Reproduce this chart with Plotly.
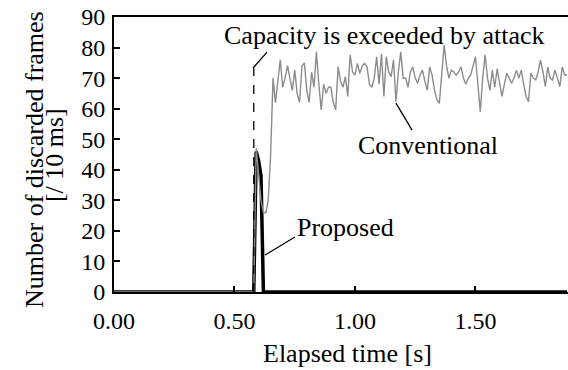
import plotly.graph_objects as go

# Conventional: zero until 0.58 s, then sampled every 10 ms from 0.59 s to 1.88 s
conv_start_time = [0.00, 0.58]
conv_start_vals = [0, 0]
conv_vals = [
    47, 38, 30, 26, 26, 30, 45,
    70, 62, 69, 76, 67, 70, 74, 70, 66, 72.6, 65, 62, 74, 75, 66, 62, 72, 67, 78.6, 68,
    59.6, 68, 65, 67, 67, 62, 59.6, 73.7, 69, 67, 70.5, 64, 77.6, 72, 71, 74.8, 71.6, 74,
    74.8, 73.7, 68, 67, 70, 77, 68, 78, 64, 77, 72, 70.5, 76, 62.3, 72, 78.6, 69.9, 70,
    67, 72, 73.7, 70, 68.3, 71, 72.6, 69, 66, 73.7, 71, 66, 63, 61.7, 70, 80.8, 74, 69.9,
    72.6, 72, 71, 72, 73.7, 70, 68, 70, 71, 74, 77, 68, 59, 70, 77.6, 70, 66, 72.6, 67,
    73, 69, 64, 68, 71.6, 70, 68.3, 70, 72.6, 70, 72.6, 68, 64, 62.3, 71.6, 70, 69.4, 72,
    75.9, 72, 67.2, 73.7, 70, 69.4, 72.6, 70, 67.2, 73.7, 71, 71,
]
conv_time = conv_start_time + [round(0.59 + 0.01 * i, 2) for i in range(len(conv_vals))]
conv_all = conv_start_vals + conv_vals

prop_time = [0.00, 0.58, 0.59, 0.60, 0.61, 0.62, 1.88]
prop_vals = [0, 0, 46, 43, 38, 0, 0]

attack_time = 0.58
x_ticks = [0.0, 0.5, 1.0, 1.5]
x_labels = ["0.00", "0.50", "1.00", "1.50"]
y_ticks = [0, 10, 20, 30, 40, 50, 60, 70, 80, 90]

FONT = "Liberation Serif"
TXT = dict(family=FONT, size=26, color="black")

fig = go.Figure()
fig.add_trace(go.Scatter(x=prop_time, y=prop_vals, mode="lines",
                         line=dict(color="black", width=3.5), name="Proposed"))
fig.add_trace(go.Scatter(x=conv_time, y=conv_all, mode="lines",
                         line=dict(color="#8c8c8c", width=1.4), name="Conventional"))

# dashed line marking the attack start
fig.add_shape(type="line", xref="x", yref="y", x0=attack_time, x1=attack_time,
              y0=0, y1=73.3, line=dict(color="black", width=1.3, dash="dash"))
# leader lines
fig.add_shape(type="line", xref="x", yref="y", x0=0.577, y0=73.3, x1=0.635, y1=78.5,
              line=dict(color="black", width=1.3))
fig.add_shape(type="line", xref="x", yref="y", x0=1.17, y0=61.8, x1=1.237, y1=53,
              line=dict(color="black", width=1.3))
fig.add_shape(type="line", xref="x", yref="y", x0=0.627, y0=12.1, x1=0.751, y1=18,
              line=dict(color="black", width=1.3))

def note(text, xp, yp, angle=0):
    fig.add_annotation(x=xp, y=yp, xref="paper", yref="paper", text=text,
                       showarrow=False, xanchor="center", yanchor="middle",
                       textangle=angle, font=TXT)

note("Capacity is exceeded by attack", 0.5958, 0.9345)
note("Conventional", 0.6916, 0.531)
note("Proposed", 0.511, 0.233)
note("Elapsed time [s]", 0.5143, -0.222)
note("Number of discarded frames", -0.1762, 0.48, -90)
note("[/ 10 ms]", -0.132, 0.498, -90)

fig.update_layout(
    width=568, height=370,
    margin=dict(l=114, r=0, t=17, b=78),
    paper_bgcolor="white", plot_bgcolor="white",
    showlegend=False,
    font=dict(family=FONT, size=24, color="black"),
    xaxis=dict(range=[0, 1.884], tickvals=x_ticks, ticktext=x_labels,
               ticks="inside", ticklen=6, tickwidth=1.5, tickcolor="black",
               ticklabelstandoff=6,
               showline=True, linecolor="black", linewidth=2, mirror=True,
               showgrid=False, zeroline=False),
    yaxis=dict(range=[0, 90], tickvals=y_ticks,
               ticks="inside", ticklen=6, tickwidth=1.5, tickcolor="black",
               ticklabelstandoff=2,
               showline=True, linecolor="black", linewidth=2, mirror=False,
               showgrid=False, zeroline=False),
)

fig.write_html("out.html", config={"displayModeBar": False},
               post_script="document.body.style.margin='0';document.body.style.overflow='hidden';")
